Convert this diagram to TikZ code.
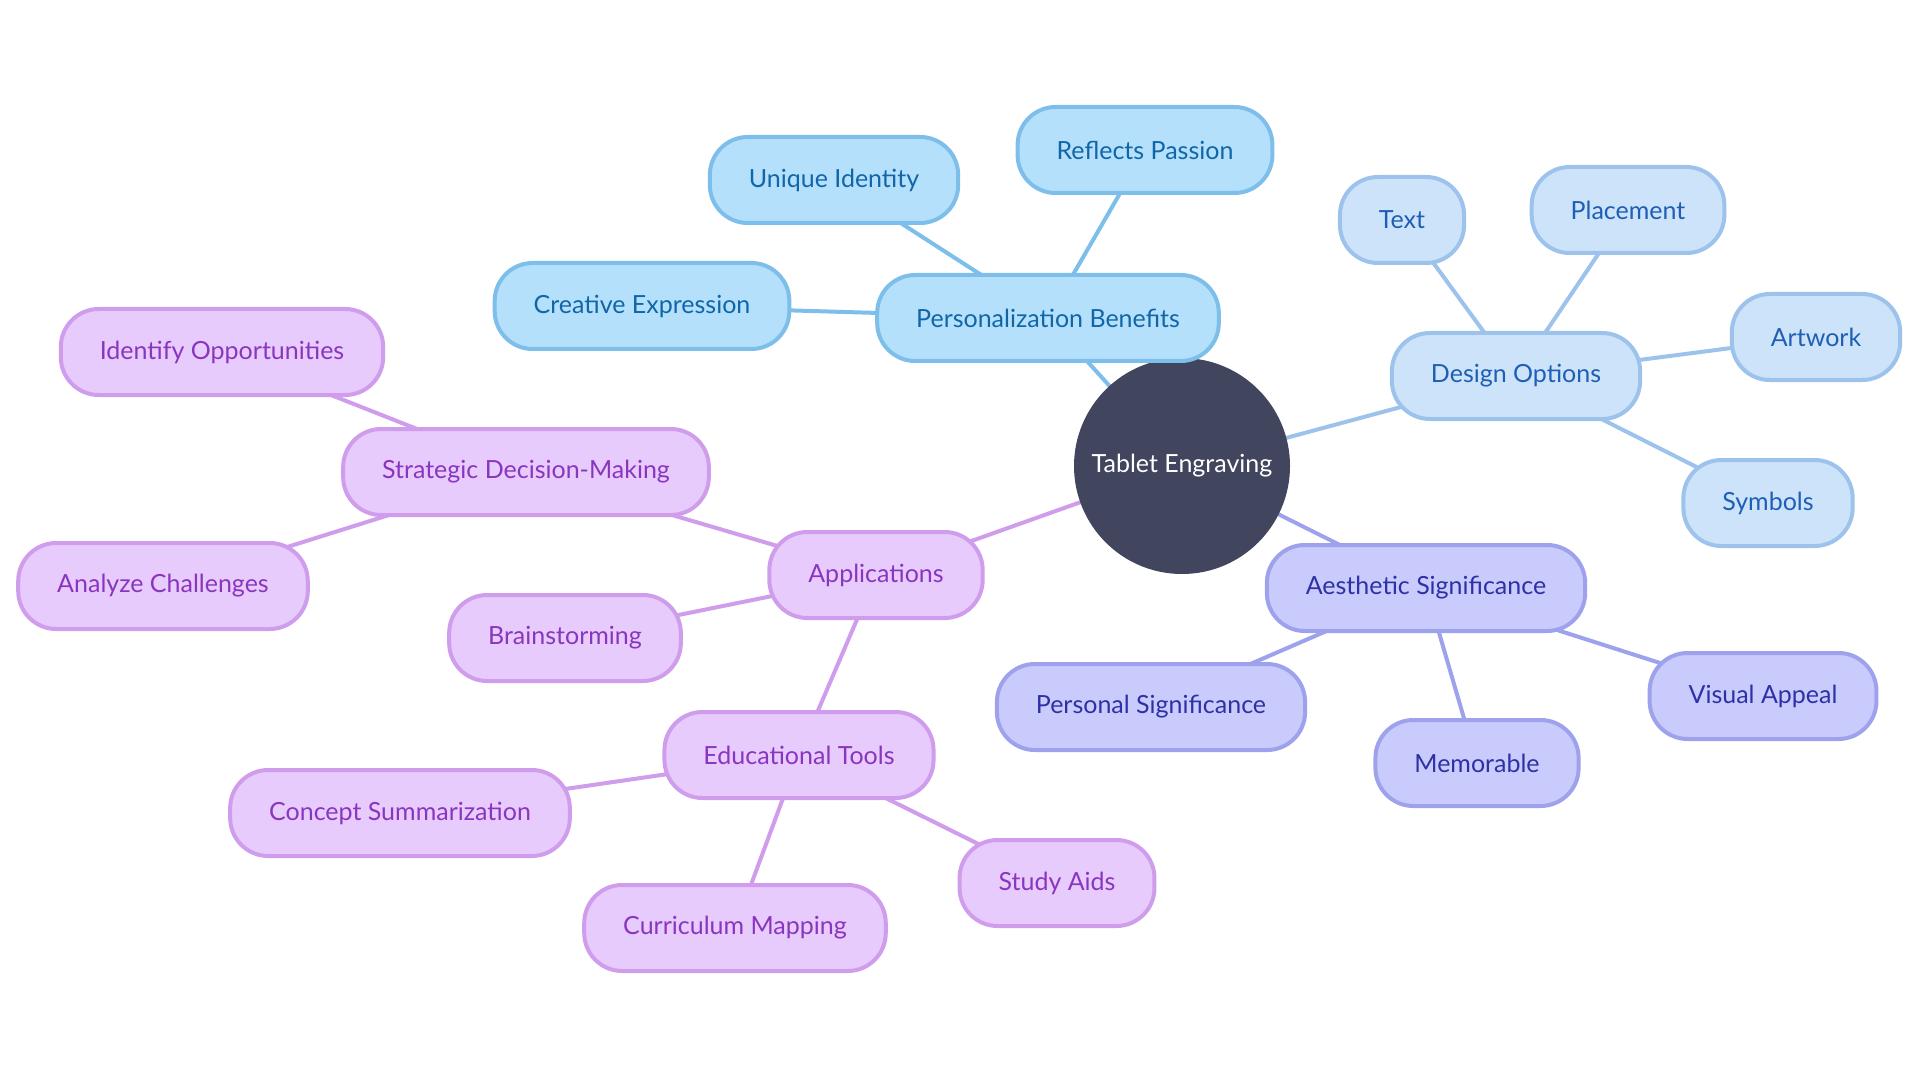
\documentclass[tikz,border=0pt]{standalone}
\usepackage{fontspec}
\setmainfont{Lato}
\usetikzlibrary{backgrounds}

\definecolor{hubFill}{HTML}{41455E}
\definecolor{skyFill}{HTML}{B4E0FC}
\definecolor{skyLine}{HTML}{7DBEEB}
\definecolor{skyText}{HTML}{1166A8}
\definecolor{paleFill}{HTML}{CCE3FA}
\definecolor{paleLine}{HTML}{9DC3EC}
\definecolor{paleText}{HTML}{1E5FB5}
\definecolor{lilacFill}{HTML}{C9CBFC}
\definecolor{lilacLine}{HTML}{9EA2EC}
\definecolor{lilacText}{HTML}{2E31A6}
\definecolor{plumFill}{HTML}{E7CBFC}
\definecolor{plumLine}{HTML}{CF9DEB}
\definecolor{plumText}{HTML}{8A35BF}

\tikzset{
  leaf/.style={rectangle, rounded corners=19pt, line width=2pt,
    minimum height=43pt, inner xsep=19.5pt, font=\fontsize{12.5}{15}\selectfont},
  sky/.style={leaf, fill=skyFill, draw=skyLine, text=skyText},
  pale/.style={leaf, fill=paleFill, draw=paleLine, text=paleText},
  lilac/.style={leaf, fill=lilacFill, draw=lilacLine, text=lilacText},
  plum/.style={leaf, fill=plumFill, draw=plumLine, text=plumText},
  link/.style={line width=2pt}
}

\begin{document}
\begin{tikzpicture}[x=0.5pt, y=-0.5pt]
	\useasboundingbox (0,0) rectangle (1920,1080);
	
	% ---- Center vertex ----
	\node[circle, fill=hubFill, minimum size=108pt, text=white,
	  font=\fontsize{12.5}{15}\selectfont] (hub) at (1182,466) {Tablet Engraving};
	
	% ---- Topic and leaf nodes ----
	\foreach \x/\y/\name/\kind/\txt in {
		1048/318/pers/sky/Personalization Benefits,
		1145/150/passion/sky/Reflects Passion,
		834/180/ident/sky/Unique Identity,
		642/306/creative/sky/Creative Expression,
		1516/376/design/pale/Design Options,
		1402/220/text/pale/Text,
		1628/210/place/pale/Placement,
		1816/337/art/pale/Artwork,
		1768/503/symb/pale/Symbols,
		1426/588/aesth/lilac/Aesthetic Significance,
		1151/707/personal/lilac/Personal Significance,
		1477/763/memo/lilac/Memorable,
		1763/696/visual/lilac/Visual Appeal,
		876/575/apps/plum/Applications,
		526/472/strat/plum/Strategic Decision-Making,
		222/352/oppo/plum/Identify Opportunities,
		163/586/chall/plum/Analyze Challenges,
		565/638/brain/plum/Brainstorming,
		799/755/edu/plum/Educational Tools,
		400/813/concept/plum/Concept Summarization,
		735/928/curri/plum/Curriculum Mapping,
		1057/883/study/plum/Study Aids}
	{
		\node[\kind] (\name) at (\x,\y) {\txt};
	}
	
	% ---- Edges (center to center, behind the boxes) ----
	\begin{pgfonlayer}{background}
		\foreach \a/\b/\col in {
			hub/pers/skyLine, pers/passion/skyLine, pers/ident/skyLine, pers/creative/skyLine,
			hub/design/paleLine, design/text/paleLine, design/place/paleLine,
			design/art/paleLine, design/symb/paleLine,
			hub/aesth/lilacLine, aesth/personal/lilacLine, aesth/memo/lilacLine,
			aesth/visual/lilacLine,
			hub/apps/plumLine, apps/strat/plumLine, strat/oppo/plumLine,
			strat/chall/plumLine, apps/brain/plumLine, apps/edu/plumLine,
			edu/concept/plumLine, edu/curri/plumLine, edu/study/plumLine}
		\draw[link, draw=\col] (\a.center) -- (\b.center);
	\end{pgfonlayer}
	
\end{tikzpicture}
\end{document}
